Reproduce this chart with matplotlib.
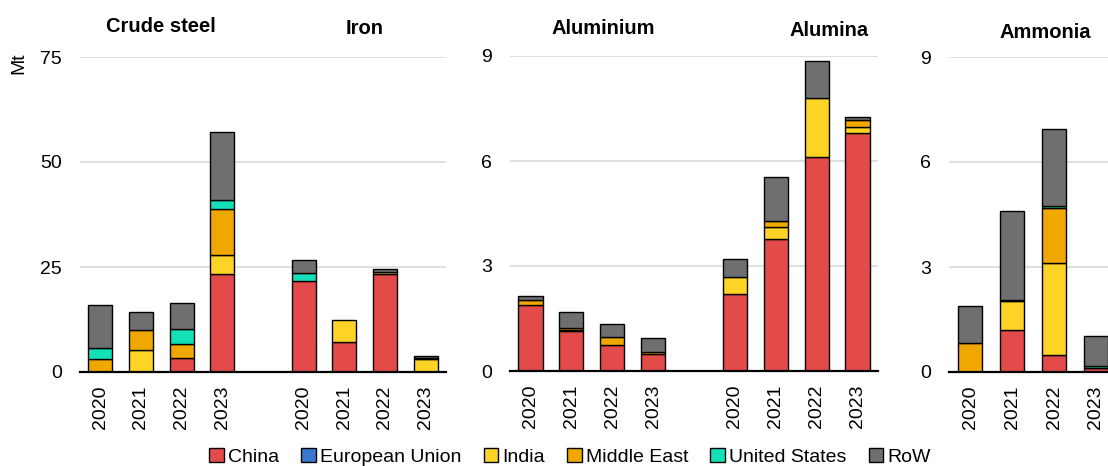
import matplotlib
matplotlib.use("Agg")
import matplotlib.pyplot as plt
from matplotlib.patches import Patch
import numpy as np

plt.rcParams['font.family'] = ['Liberation Sans', 'DejaVu Sans']

years = ["2020", "2021", "2022", "2023"]
regions = ["China", "European Union", "India", "Middle East", "United States", "RoW"]
colors = ["#E34A4A", "#3A78D0", "#FDD325", "#F0A800", "#14E0B8", "#6F6F6F"]

# Mt values per region (China, EU, India, Middle East, US, RoW), per year 2020-2023
crude_steel = {
    "China":          [0.0, 0.0, 3.25, 23.3],
    "European Union": [0.0, 0.0, 0.0, 0.0],
    "India":          [0.0, 5.2, 0.0, 4.6],
    "Middle East":    [3.2, 4.9, 3.35, 10.9],
    "United States":  [2.5, 0.0, 3.6, 2.2],
    "RoW":            [10.2, 4.3, 6.2, 16.1],
}
iron = {
    "China":          [21.7, 7.2, 23.3, 0.0],
    "European Union": [0.0, 0.0, 0.0, 0.0],
    "India":          [0.0, 5.1, 0.5, 3.1],
    "Middle East":    [0.0, 0.0, 0.0, 0.2],
    "United States":  [1.9, 0.0, 0.0, 0.0],
    "RoW":            [3.0, 0.0, 0.8, 0.5],
}
aluminium = {
    "China":          [1.88, 1.14, 0.73, 0.50],
    "European Union": [0.0, 0.0, 0.0, 0.0],
    "India":          [0.0, 0.04, 0.0, 0.0],
    "Middle East":    [0.16, 0.04, 0.24, 0.05],
    "United States":  [0.0, 0.0, 0.0, 0.0],
    "RoW":            [0.09, 0.47, 0.36, 0.40],
}
alumina = {
    "China":          [2.19, 3.77, 6.12, 6.80],
    "European Union": [0.0, 0.0, 0.0, 0.0],
    "India":          [0.51, 0.34, 1.69, 0.17],
    "Middle East":    [0.0, 0.18, 0.0, 0.19],
    "United States":  [0.0, 0.0, 0.0, 0.0],
    "RoW":            [0.51, 1.26, 1.04, 0.11],
}
ammonia = {
    "China":          [0.0, 1.20, 0.48, 0.12],
    "European Union": [0.0, 0.0, 0.0, 0.0],
    "India":          [0.0, 0.82, 2.64, 0.0],
    "Middle East":    [0.84, 0.05, 1.56, 0.0],
    "United States":  [0.0, 0.0, 0.07, 0.06],
    "RoW":            [1.06, 2.54, 2.19, 0.86],
}

W, H = 1108, 466
fig = plt.figure(figsize=(W / 100, H / 100), dpi=100)

def px_axes(x0, x1, ytop, ybot):
    return fig.add_axes([x0 / W, 1 - ybot / H, (x1 - x0) / W, (ybot - ytop) / H])

def draw_stack(ax, data, positions, width):
    bottom = np.zeros(len(positions))
    for reg, col in zip(regions, colors):
        vals = np.array(data[reg], dtype=float)
        mask = vals > 0
        if mask.any():
            ax.bar(np.array(positions)[mask], vals[mask], width=width,
                   bottom=bottom[mask], color=col, edgecolor="black",
                   linewidth=1.0, zorder=3)
        bottom = bottom + vals

def style(ax, ymax, ticks, xpos, xlabels, xlim):
    ax.set_ylim(0, ymax)
    ax.set_yticks(ticks)
    ax.set_yticklabels([str(t) for t in ticks])
    ax.set_xlim(*xlim)
    ax.set_xticks(xpos)
    ax.set_xticklabels(xlabels, rotation=90)
    for s in ["top", "right", "left"]:
        ax.spines[s].set_visible(False)
    ax.spines["bottom"].set_linewidth(1.6)
    ax.spines["bottom"].set_zorder(4)
    ax.tick_params(axis="both", length=0, labelsize=14)
    ax.tick_params(axis="y", pad=13)
    ax.tick_params(axis="x", pad=10)
    ax.grid(axis="y", color="#d9d9d9", linewidth=1.2, zorder=0)
    ax.set_axisbelow(True)

# Panel 1: crude steel + iron
ax1 = px_axes(80, 446, 57, 372)
pos_a = [0, 1, 2, 3]
pos_b = [5, 6, 7, 8]
draw_stack(ax1, crude_steel, pos_a, 0.59)
draw_stack(ax1, iron, pos_b, 0.59)
style(ax1, 75, [0, 25, 50, 75], pos_a + pos_b, years + years, (-0.5, 8.5))

# Panel 2: aluminium + alumina
ax2 = px_axes(510, 878, 56, 371)
draw_stack(ax2, aluminium, pos_a, 0.59)
draw_stack(ax2, alumina, pos_b, 0.59)
style(ax2, 9, [0, 3, 6, 9], pos_a + pos_b, years + years, (-0.5, 8.5))

# Panel 3: ammonia (extends past the right edge)
ax3 = px_axes(949, 1117, 57, 372)
draw_stack(ax3, ammonia, pos_a, 0.57)
style(ax3, 9, [0, 3, 6, 9], pos_a, years, (-0.5, 3.5))

# Unit label
fig.text(19 / W, 1 - 63 / H, "Mt", rotation=90, ha="center", va="center", fontsize=14)

# Panel titles
for txt, x, y in [("Crude steel", 161, 26), ("Iron", 365, 28),
                  ("Aluminium", 603, 28), ("Alumina", 829, 31),
                  ("Ammonia", 1045, 32)]:
    fig.text(x / W, 1 - y / H, txt, ha="center", va="center",
             fontsize=14.5, fontweight="bold")

handles = [Patch(facecolor=c, edgecolor="black", linewidth=1.0) for c in colors]
fig.legend(handles, regions, loc="center", bbox_to_anchor=(570 / W, 1 - 457 / H),
           ncol=6, frameon=False, fontsize=14, handlelength=0.75, handleheight=0.75,
           handletextpad=0.2, columnspacing=1.15, borderpad=0)

fig.savefig("out.png", dpi=100)
